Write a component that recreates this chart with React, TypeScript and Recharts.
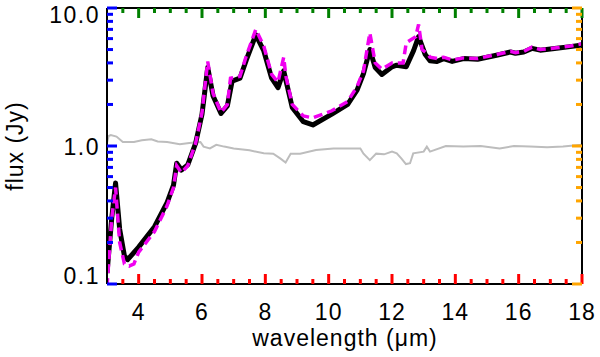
import React from "react";
import { LineChart, Line, XAxis, YAxis } from "recharts";

const FONT = "'Liberation Sans', Arial, Helvetica, sans-serif";

// model spectrum (black)
const blackWave = [3.0, 3.15, 3.27, 3.4, 3.55, 3.65, 4.0, 4.5, 4.9, 5.1, 5.2, 5.35, 5.55, 5.8, 6.0, 6.18, 6.35, 6.6, 6.8, 6.95, 7.2, 7.4, 7.7, 7.95, 8.2, 8.4, 8.58, 8.85, 9.2, 9.5, 10.1, 10.6, 10.9, 11.1, 11.3, 11.47, 11.68, 12.0, 12.15, 12.45, 12.68, 12.84, 13.05, 13.2, 13.42, 13.63, 13.9, 14.26, 14.7, 15.0, 15.3, 15.74, 15.9, 16.16, 16.42, 16.68, 17.2, 17.63, 18.0];
const blackFlux = [0.12, 0.3, 0.54, 0.25, 0.16, 0.15, 0.185, 0.26, 0.39, 0.52, 0.75, 0.67, 0.73, 1.05, 1.7, 3.7, 2.3, 1.72, 1.95, 2.95, 3.1, 4.2, 6.4, 4.9, 3.1, 2.65, 3.5, 1.9, 1.5, 1.42, 1.7, 2.0, 2.55, 3.35, 5.0, 3.7, 3.3, 3.75, 3.85, 3.75, 4.9, 6.2, 4.6, 4.15, 4.1, 4.3, 4.1, 4.3, 4.25, 4.4, 4.55, 4.8, 4.7, 4.8, 5.1, 4.95, 5.1, 5.25, 5.4];

// observed spectrum (magenta dashed)
const magentaWave = [3.0, 3.15, 3.27, 3.4, 3.55, 3.7, 3.85, 4.0, 4.5, 4.9, 5.1, 5.2, 5.35, 5.55, 5.8, 6.0, 6.18, 6.35, 6.6, 6.8, 6.9, 7.2, 7.4, 7.7, 7.95, 8.2, 8.4, 8.58, 8.65, 8.85, 9.2, 9.5, 10.1, 10.6, 10.9, 11.1, 11.3, 11.47, 11.68, 12.0, 12.2, 12.35, 12.45, 12.75, 12.84, 12.95, 13.1, 13.2, 13.42, 13.63, 13.9, 14.26, 14.7, 15.0, 15.3, 15.74, 15.9, 16.16, 16.42, 16.68, 17.2, 17.63, 18.0];
const magentaFlux = [0.095, 0.3, 0.5, 0.2, 0.14, 0.135, 0.14, 0.17, 0.24, 0.37, 0.5, 0.72, 0.64, 0.72, 1.05, 1.75, 4.1, 2.4, 1.75, 2.0, 3.1, 3.2, 4.5, 7.0, 5.3, 3.3, 2.9, 4.4, 3.2, 2.0, 1.65, 1.6, 1.8, 2.1, 2.7, 3.5, 6.6, 4.0, 3.6, 4.0, 4.0, 4.0, 5.6, 6.2, 7.6, 5.0, 4.7, 4.4, 4.3, 4.4, 4.2, 4.35, 4.3, 4.45, 4.6, 4.85, 4.75, 4.85, 5.2, 5.0, 5.15, 5.3, 5.5];

// ratio (grey)
const greyWave = [3.0, 3.05, 3.12, 3.3, 3.5, 3.85, 4.1, 4.4, 4.6, 4.9, 5.3, 5.6, 5.95, 6.05, 6.25, 6.45, 6.7, 7.0, 7.5, 7.95, 8.25, 8.48, 8.64, 8.8, 9.1, 9.6, 10.15, 10.7, 11.0, 11.1, 11.3, 11.5, 11.75, 12.0, 12.15, 12.3, 12.44, 12.57, 12.67, 13.0, 13.1, 13.2, 13.7, 14.25, 14.8, 15.4, 15.85, 16.35, 16.9, 17.4, 18.0];
const greyFlux = [1.05, 1.18, 1.2, 1.17, 1.07, 1.07, 1.1, 1.12, 1.08, 1.07, 1.03, 1.05, 1.07, 0.99, 0.96, 1.02, 0.99, 0.96, 0.93, 0.885, 0.88, 0.81, 0.76, 0.88, 0.88, 0.935, 0.96, 0.96, 0.96, 0.88, 0.79, 0.88, 0.87, 0.91, 0.885, 0.81, 0.74, 0.75, 0.885, 0.91, 0.99, 0.91, 1.0, 0.99, 1.0, 0.96, 1.0, 0.99, 0.98, 0.99, 1.02];

const xMajor = [4, 6, 8, 10, 12, 14, 16, 18];
const xTicks = [3.5, 4, 4.5, 5, 5.5, 6, 6.5, 7, 7.5, 8, 8.5, 9, 9.5, 10, 10.5, 11, 11.5, 12, 12.5, 13, 13.5, 14, 14.5, 15, 15.5, 16, 16.5, 17, 17.5, 18];
const yMajor = [0.1, 1, 10];
const yLabels = ["0.1", "1.0", "10.0"];
const yTicks = [0.1, 0.2, 0.3, 0.4, 0.5, 0.6, 0.7, 0.8, 0.9, 1, 2, 3, 4, 5, 6, 7, 8, 9, 10];

const zip = (xs: number[], ys: number[]) => xs.map((x, i) => ({ x, y: ys[i] }));
const blackData = zip(blackWave, blackFlux);
const magentaData = zip(magentaWave, magentaFlux);
const greyData = zip(greyWave, greyFlux);

const isMajor = (list: number[], v: number) => list.some((m) => Math.abs(m - v) < 1e-9);

const BottomTick = (props: any) => {
  const { x, y, payload } = props;
  const v = payload.value;
  const major = isMajor(xMajor, v);
  return (
    <g>
      <line x1={x} x2={x} y1={y} y2={y - (major ? 10 : 5)} stroke="red" strokeWidth={3} />
      {major && (
        <text x={x} y={y + 28} textAnchor="middle" dominantBaseline="central" fontSize={23} fontFamily={FONT} fill="#000" letterSpacing={1}>
          {v}
        </text>
      )}
    </g>
  );
};

const TopTick = (props: any) => {
  const { x, y, payload } = props;
  const major = isMajor(xMajor, payload.value);
  return (
    <g>
      <line x1={x} x2={x} y1={y} y2={y + (major ? 10 : 5)} stroke="green" strokeWidth={3} />
    </g>
  );
};

const LeftTick = (props: any) => {
  const { x, y, payload } = props;
  const v = payload.value;
  const idx = yMajor.findIndex((m) => Math.abs(m - v) < 1e-9);
  const major = idx >= 0;
  const shift = v === 10 ? 7 : v === 0.1 ? -8 : 1;
  return (
    <g>
      <line x1={x} x2={x + (major ? 10 : 6)} y1={y} y2={y} stroke="blue" strokeWidth={3} />
      {major && (
        <text x={x - 7} y={y + shift} textAnchor="end" dominantBaseline="central" fontSize={23} fontFamily={FONT} fill="#000" letterSpacing={1.5}>
          {yLabels[idx]}
        </text>
      )}
    </g>
  );
};

const RightTick = (props: any) => {
  const { x, y, payload } = props;
  const major = isMajor(yMajor, payload.value);
  return (
    <g>
      <line x1={x} x2={x - (major ? 10 : 6)} y1={y} y2={y} stroke="orange" strokeWidth={3} />
    </g>
  );
};

const titleStyle: React.CSSProperties = {
  position: "absolute",
  fontFamily: FONT,
  fontSize: 23,
  lineHeight: "23px",
  letterSpacing: 1,
  color: "#000",
  whiteSpace: "nowrap",
};

const axisLine = { stroke: "#000", strokeWidth: 2 };

export default function App() {
  return (
    <div style={{ position: "absolute", left: 0, top: 0, width: 600, height: 357, background: "#fff" }}>
      <LineChart width={600} height={357} margin={{ top: 7, right: 17, bottom: 0, left: 0 }}>
        <XAxis
          xAxisId="bottom"
          dataKey="x"
          type="number"
          domain={[3, 18]}
          allowDataOverflow
          ticks={xTicks}
          interval={0}
          tick={BottomTick}
          tickLine={false}
          tickSize={0}
          tickMargin={0}
          axisLine={axisLine}
          height={73}
        />
        <XAxis
          xAxisId="top"
          orientation="top"
          dataKey="x"
          type="number"
          domain={[3, 18]}
          allowDataOverflow
          ticks={xTicks}
          interval={0}
          tick={TopTick}
          tickLine={false}
          tickSize={0}
          tickMargin={0}
          axisLine={axisLine}
          height={1}
        />
        <YAxis
          yAxisId="left"
          type="number"
          scale="log"
          domain={[0.1, 10]}
          allowDataOverflow
          ticks={yTicks}
          interval={0}
          tick={LeftTick}
          tickLine={false}
          tickSize={0}
          tickMargin={0}
          axisLine={axisLine}
          width={107}
        />
        <YAxis
          yAxisId="right"
          orientation="right"
          type="number"
          scale="log"
          domain={[0.1, 10]}
          allowDataOverflow
          ticks={yTicks}
          interval={0}
          tick={RightTick}
          tickLine={false}
          tickSize={0}
          tickMargin={0}
          axisLine={axisLine}
          width={1}
        />
        <Line
          data={greyData}
          xAxisId="top"
          yAxisId="right"
          dataKey="y"
          type="linear"
          stroke="#bdbdbd"
          strokeWidth={2}
          dot={false}
          isAnimationActive={false}
        />
        <Line
          data={blackData}
          xAxisId="bottom"
          yAxisId="left"
          dataKey="y"
          type="linear"
          stroke="#000"
          strokeWidth={5}
          strokeLinejoin="round"
          dot={false}
          isAnimationActive={false}
        />
        <Line
          data={magentaData}
          xAxisId="bottom"
          yAxisId="left"
          dataKey="y"
          type="linear"
          stroke="#f000f0"
          strokeWidth={3.5}
          strokeDasharray="9 5"
          dot={false}
          isAnimationActive={false}
        />
      </LineChart>
      <div style={{ ...titleStyle, left: 345, top: 327, transform: "translateX(-50%)" }}>wavelength (μm)</div>
      <div style={{ ...titleStyle, left: 15, top: 146, transform: "translate(-50%, -50%) rotate(-90deg)" }}>flux (Jy)</div>
    </div>
  );
}
